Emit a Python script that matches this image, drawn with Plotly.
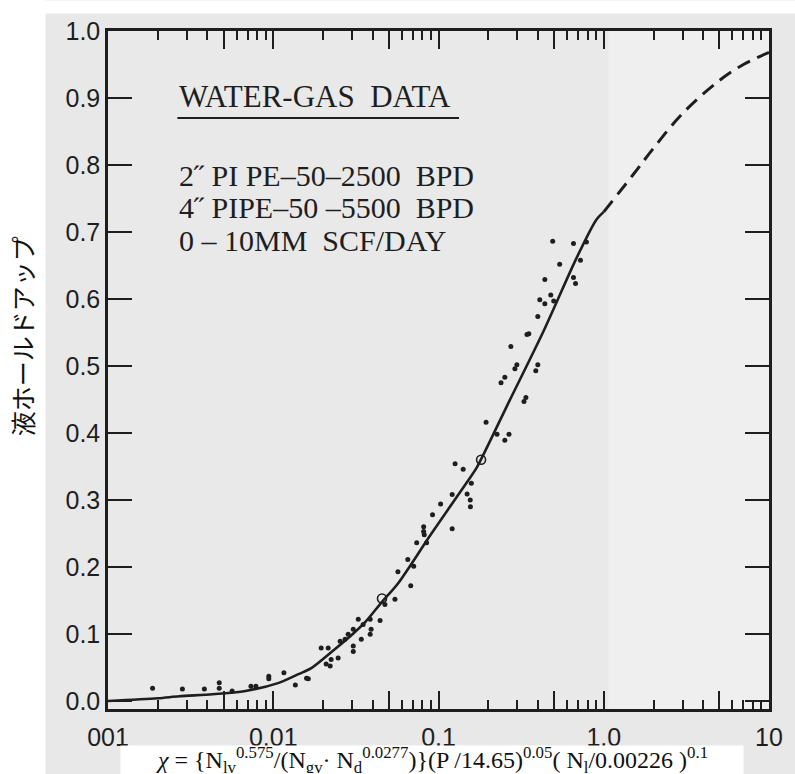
import plotly.graph_objects as go

# ---- data ----
curve_x = [0.001, 0.002, 0.0027, 0.0043, 0.0068, 0.0108, 0.0142, 0.017, 0.0225, 0.0297,
           0.0361, 0.0455, 0.0567, 0.0896, 0.156, 0.171, 0.27, 0.434, 0.684, 0.9, 1.0]
curve_y = [0.0, 0.004, 0.007, 0.010, 0.015, 0.027, 0.040, 0.049, 0.073, 0.098,
           0.118, 0.148, 0.175, 0.248, 0.334, 0.349, 0.449, 0.553, 0.661, 0.718, 0.73]

dash_x = [1.0, 1.5, 2.0, 3.0, 5.0, 7.0, 10.0]
dash_y = [0.73, 0.785, 0.825, 0.877, 0.926, 0.95, 0.968]

pts_x = [0.1556, 0.156, 0.121, 0.103, 0.092, 0.0813, 0.0813, 0.082, 0.121, 0.0738,
         0.0847, 0.0652, 0.0708, 0.0568, 0.0679, 0.0474, 0.0545, 0.0443, 0.0327, 0.035,
         0.0386, 0.0305, 0.0284, 0.0272, 0.0391, 0.0386, 0.0254, 0.0341, 0.0305, 0.0305,
         0.0195, 0.0215, 0.0247, 0.0224, 0.0221, 0.0209, 0.0159, 0.0163, 0.0136, 0.0116,
         0.0094, 0.0094, 0.00785, 0.00733, 0.00564, 0.00471, 0.00471, 0.00383, 0.00282, 0.00186,
         0.491, 0.656, 0.785, 0.541, 0.723, 0.44, 0.656, 0.675, 0.478, 0.41,
         0.44, 0.498, 0.399, 0.352, 0.343, 0.274, 0.298, 0.29, 0.399, 0.388,
         0.252, 0.239, 0.338, 0.329, 0.194, 0.267, 0.252, 0.226, 0.126, 0.141,
         0.158, 0.149]
pts_y = [0.300, 0.290, 0.308, 0.294, 0.278, 0.260, 0.253, 0.248, 0.257, 0.236,
         0.236, 0.211, 0.201, 0.193, 0.172, 0.144, 0.152, 0.120, 0.122, 0.114,
         0.122, 0.107, 0.0996, 0.092, 0.107, 0.0996, 0.089, 0.092, 0.082, 0.074,
         0.079, 0.079, 0.064, 0.062, 0.052, 0.055, 0.034, 0.033, 0.024, 0.042,
         0.037, 0.033, 0.022, 0.022, 0.015, 0.027, 0.019, 0.018, 0.018, 0.019,
         0.686, 0.683, 0.685, 0.652, 0.658, 0.629, 0.632, 0.623, 0.606, 0.599,
         0.593, 0.597, 0.574, 0.548, 0.547, 0.529, 0.502, 0.496, 0.502, 0.493,
         0.483, 0.475, 0.453, 0.447, 0.416, 0.398, 0.389, 0.398, 0.354, 0.346,
         0.325, 0.309]

circ_x = [0.0455, 0.181]
circ_y = [0.153, 0.360]

xtick_vals = [0.001, 0.005, 0.01, 0.05, 0.1, 0.5, 1, 5, 10]
xtick_text = ["001", "", "0.01", "", "0.1", "", "1.0", "", "10"]
xminor_vals = [k * 10.0 ** e for e in range(-3, 1) for k in (2, 3, 4, 6, 7, 8, 9)]
ytick_vals = [0.0, 0.1, 0.2, 0.3, 0.4, 0.5, 0.6, 0.7, 0.8, 0.9, 1.0]
ytick_text = ["0.0", "0.1", "0.2", "0.3", "0.4", "0.5", "0.6", "0.7", "0.8", "0.9", "1.0"]

legend_lines = ["WATER-GAS  DATA", "2\u02dd PI PE\u201350\u20132500  BPD",
                "4\u02dd PIPE\u201350 \u20135500  BPD", "0 \u2013 10MM  SCF/DAY"]
y_title = "液ホールドアップ"
x_title = ("<i>χ</i> = {N<sub>lv</sub><sup>0.575</sup>/(N<sub>gv</sub>· N<sub>d</sub><sup>0.0277</sup>)}"
           "(P /14.65)<sup>0.05</sup>( N<sub>l</sub>/0.00226 )<sup>0.1</sup>")

INK = "#1e1e1e"

fig = go.Figure()
fig.add_trace(go.Scatter(x=curve_x, y=curve_y, mode="lines",
                         line=dict(color=INK, width=2.6, shape="spline", smoothing=0.8),
                         hoverinfo="skip", showlegend=False))
fig.add_trace(go.Scatter(x=dash_x, y=dash_y, mode="lines",
                         line=dict(color=INK, width=3, dash="14px,8px", shape="spline"),
                         hoverinfo="skip", showlegend=False))
fig.add_trace(go.Scatter(x=pts_x, y=pts_y, mode="markers",
                         marker=dict(color=INK, size=5, symbol="circle"),
                         showlegend=False))
fig.add_trace(go.Scatter(x=circ_x, y=circ_y, mode="markers",
                         marker=dict(color=INK, size=9, symbol="circle-open", line=dict(width=1.6)),
                         showlegend=False))

axis_common = dict(showline=True, linecolor=INK, linewidth=2.5, mirror="ticks",
                   ticks="inside", tickcolor=INK, tickwidth=2, showgrid=False, zeroline=False)

fig.update_layout(
    width=795, height=774,
    margin=dict(l=108, r=20, t=31, b=65),
    paper_bgcolor="#e8e8e8",
    plot_bgcolor="#e9e9e9",
    font=dict(family="Liberation Sans, Arial", color=INK),
    xaxis=dict(type="log", range=[-3, 1], tickmode="array", tickvals=xtick_vals,
               ticktext=xtick_text, ticklen=18, ticklabelstandoff=4,
               tickfont=dict(size=25, family="Liberation Sans, Arial", color=INK),
               minor=dict(tickvals=xminor_vals, ticks="inside", ticklen=9,
                          tickwidth=2, tickcolor=INK, showgrid=False),
               **axis_common),
    yaxis=dict(range=[-0.012, 1.0], tickmode="array", tickvals=ytick_vals,
               ticktext=ytick_text, ticklen=24,
               tickfont=dict(size=25, family="Liberation Sans, Arial", color=INK),
               **axis_common),
    shapes=[
        dict(type="rect", xref="x domain", yref="y domain", x0=0.757, x1=1.0, y0=0, y1=1,
             fillcolor="#efefef", line=dict(width=0), layer="below"),
        dict(type="line", xref="paper", yref="paper", x0=0.105, x1=0.531, y0=0.8717, y1=0.8717,
             line=dict(color=INK, width=2)),
    ],
)

ann = []
# white margins of the scanned page
ann.append(dict(text=" ", xref="paper", yref="paper", x=-0.1297, y=0.4749,
                xanchor="center", yanchor="middle", showarrow=False,
                width=44, height=790, bgcolor="white", font=dict(size=2)))
ann.append(dict(text=" ", xref="paper", yref="paper", x=0.5, y=1.0457,
                xanchor="center", yanchor="top", showarrow=False,
                width=1000, height=10, bgcolor="white", font=dict(size=2)))
ann.append(dict(text=y_title, textangle=-90, xref="paper", yref="paper", x=-0.1297, y=0.55,
                xanchor="center", yanchor="middle", showarrow=False,
                font=dict(family="Noto Sans CJK JP", size=25, color="#111")))
ann.append(dict(text=x_title, xref="paper", yref="paper", x=0.490, y=-0.0752,
                xanchor="center", yanchor="middle", showarrow=False,
                width=620, height=26, bgcolor="white",
                font=dict(family="Liberation Serif, Times New Roman", size=24, color="#111")))
leg_y = [0.9027, 0.7876, 0.739, 0.6917]
leg_size = [31, 30, 30, 30]
for txt, yy, sz in zip(legend_lines, leg_y, leg_size):
    ann.append(dict(text=txt, xref="paper", yref="paper", x=0.105, y=yy,
                    xanchor="left", yanchor="middle", showarrow=False,
                    font=dict(family="Liberation Serif, Times New Roman", size=sz, color=INK)))
fig.update_layout(annotations=ann)

fig.write_html("out.html", config={"displayModeBar": False},
               post_script="document.body.style.margin='0px';")
